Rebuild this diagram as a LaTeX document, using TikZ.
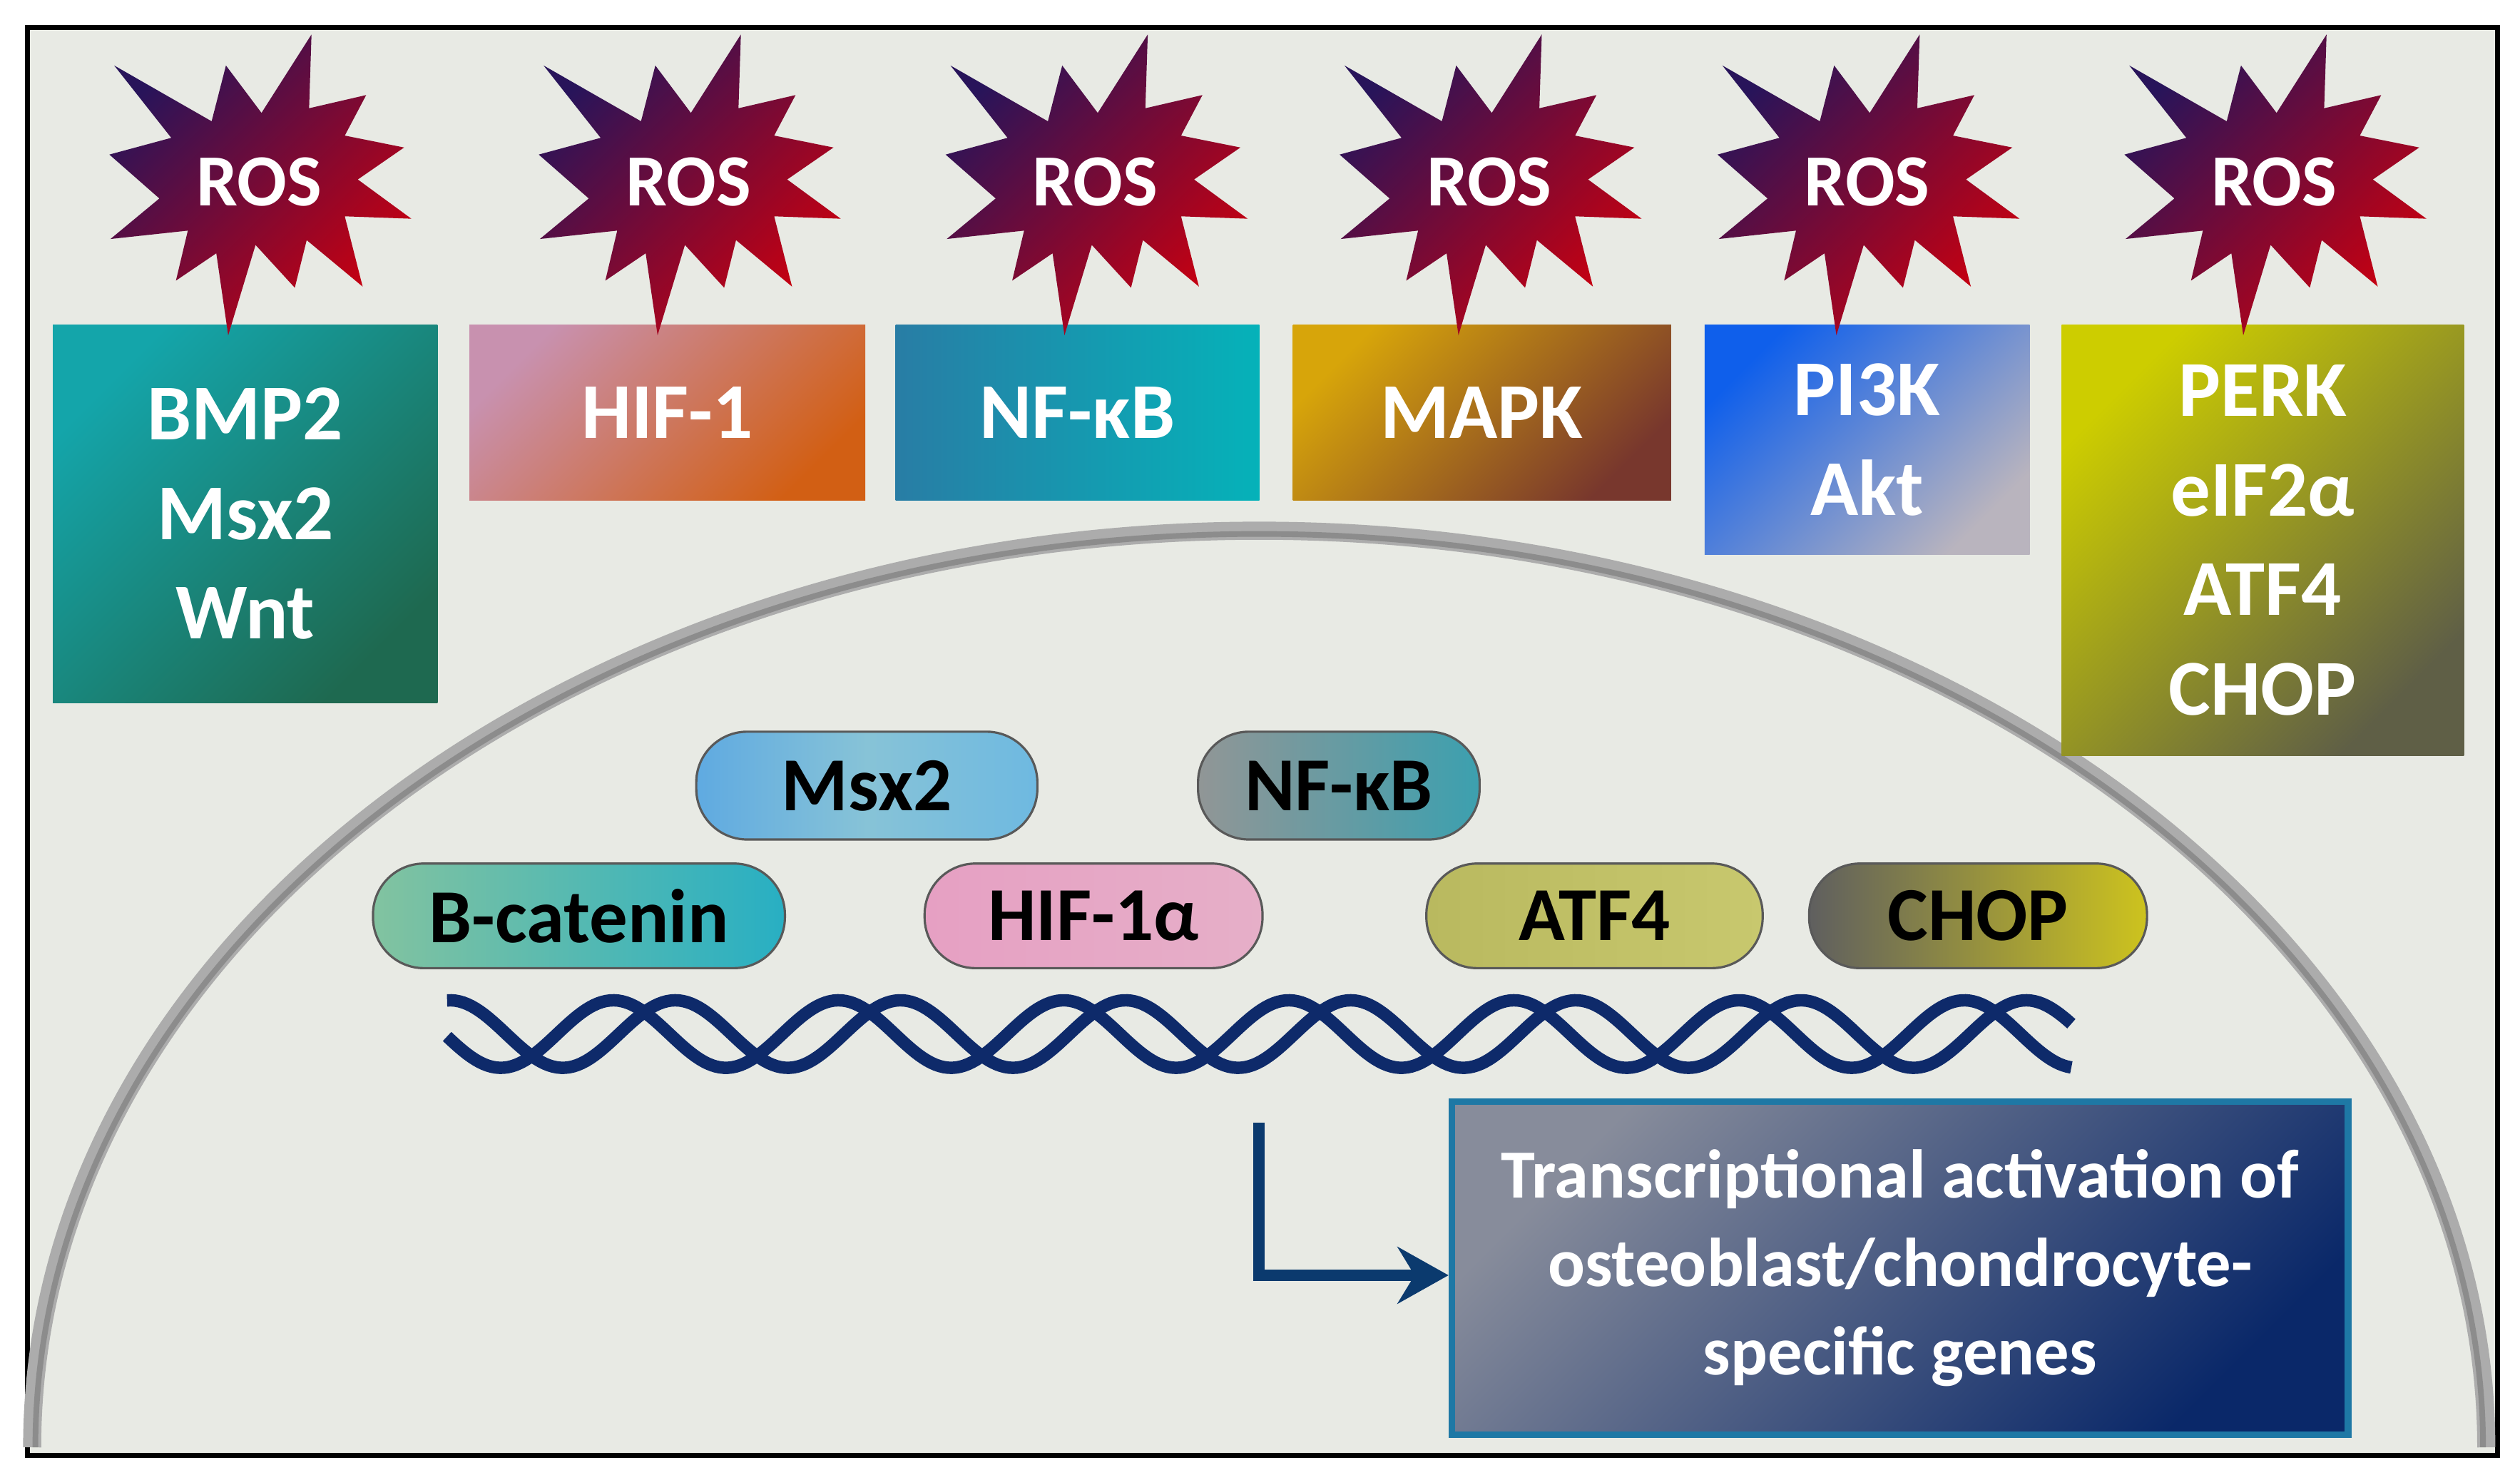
\documentclass[tikz,border=0pt]{standalone}
\usepackage{fontspec}
\setmainfont{Carlito}
\usetikzlibrary{arrows.meta}
\definecolor{bg}{HTML}{E8EAE4}
\definecolor{navy}{HTML}{0E2A6A}
\definecolor{arrowc}{HTML}{0B3A6E}
\tikzset{
  box/.style={rectangle, inner sep=0pt, text=white, font=\fontsize{14}{17.6}\selectfont\bfseries, align=center},
  pill/.style={rounded corners=9pt, draw=gray!70!black, line width=0.4pt, minimum height=0.67cm, inner sep=0pt, text=black, font=\fontsize{13.5}{16}\selectfont\bfseries},
  rostext/.style={text=white, font=\fontsize{13}{15}\selectfont\bfseries},
  star/.pic={\shade[top color={rgb,255:red,40;green,20;blue,90}, bottom color={rgb,255:red,200;green,0;blue,16}, shading angle=45]
    (33.7,-91.6) -- (2.6,-42.8) -- (-19.5,-72.3) -- (-28.4,-37.6) -- (-89,-72.3) -- (-53.5,-27.3) -- (-92,-16.9) -- (-60.9,10.4) -- (-91.3,35.6) -- (-43.2,30.4) -- (-50.6,61.5) -- (-25.5,44.5) -- (-18.1,95.5) -- (-1.1,39.3) -- (23.3,65.9) -- (30.7,36.3) -- (65.5,65.2) -- (54.4,21.5) -- (95.8,23) -- (62.5,-1.4) -- (91.3,-21.3) -- (54.4,-28.7) -- (67.7,-53.9) -- (32.2,-45.7) -- cycle;}
}
\begin{document}
\begin{tikzpicture}[x=0.01cm,y=-0.01cm]
\useasboundingbox (0,0) rectangle (1567,920);
\fill[white] (0,0) rectangle (1567,920);
\draw[fill=bg, line width=0.9pt] (17,17) rectangle (1553,905);
% nucleus arc
\draw[line width=3.2pt, gray!65] (20,900) arc[start angle=180, end angle=360, x radius=763, y radius=570];
\draw[line width=1pt, gray!90] (22,900) arc[start angle=180, end angle=360, x radius=761, y radius=568];
% boxes
\node[box, minimum width=2.39cm, minimum height=2.35cm, top color={rgb,255:red,20;green,165;blue,170}, bottom color={rgb,255:red,30;green,105;blue,80}, shading angle=45] (b1) at (152.5,319.5) {BMP2\\Msx2\\Wnt};
\node[box, minimum width=2.46cm, minimum height=1.09cm, top color={rgb,255:red,200;green,145;blue,175}, bottom color={rgb,255:red,210;green,95;blue,20}, shading angle=45] (b2) at (415,256.5) {HIF-1};
\node[box, minimum width=2.26cm, minimum height=1.09cm, left color={rgb,255:red,40;green,125;blue,165}, right color={rgb,255:red,5;green,178;blue,185}] (b3) at (670,256.5) {NF-κB};
\node[box, minimum width=2.35cm, minimum height=1.09cm, top color={rgb,255:red,215;green,165;blue,10}, bottom color={rgb,255:red,120;green,55;blue,45}, shading angle=45] (b4) at (921.5,256.5) {MAPK};
\node[box, minimum width=2.02cm, minimum height=1.43cm, top color={rgb,255:red,15;green,95;blue,235}, bottom color={rgb,255:red,185;green,180;blue,190}, shading angle=45] (b5) at (1161,273.5) {PI3K\\Akt};
\node[box, minimum width=2.50cm, minimum height=2.68cm, top color={rgb,255:red,205;green,205;blue,0}, bottom color={rgb,255:red,95;green,95;blue,70}, shading angle=45] (b6) at (1407,336) {PERK\\eIF2α\\ATF4\\CHOP};
% stars
\foreach \x/\n in {160/1,427/2,680/3,925/4,1160/5,1413/6}{
  \pic at (\x,113) {star};
  \node[rostext] (ros\n) at (\x+1,113) {ROS};
}
% pills
\node[pill, minimum width=2.12cm, left color={rgb,255:red,95;green,170;blue,225}, right color={rgb,255:red,110;green,185;blue,225}, middle color={rgb,255:red,135;green,195;blue,215}] (p1) at (539,488.5) {Msx2};
\node[pill, minimum width=1.75cm, left color={rgb,255:red,145;green,150;blue,150}, right color={rgb,255:red,60;green,160;blue,175}] (p2) at (832.5,488.5) {NF-κB};
\node[pill, minimum width=2.56cm, minimum height=0.65cm, left color={rgb,255:red,130;green,195;blue,160}, right color={rgb,255:red,40;green,175;blue,195}] (p3) at (360,569.5) {B-catenin};
\node[pill, minimum width=2.10cm, minimum height=0.65cm, left color={rgb,255:red,230;green,160;blue,195}, middle color={rgb,255:red,245;green,145;blue,130}, right color={rgb,255:red,230;green,175;blue,200}] (p4) at (680,569.5) {HIF-1α};
\node[pill, minimum width=2.09cm, minimum height=0.65cm, left color={rgb,255:red,185;green,185;blue,95}, middle color={rgb,255:red,232;green,232;blue,150}, right color={rgb,255:red,200;green,200;blue,110}] (p5) at (991.5,569.5) {ATF4};
\node[pill, minimum width=2.10cm, minimum height=0.65cm, left color={rgb,255:red,95;green,95;blue,95}, right color={rgb,255:red,205;green,195;blue,30}] (p6) at (1230,569.5) {CHOP};
% DNA
\draw[navy, line width=2.2pt] plot[domain=278:1288, samples=400] (\x,{643-21*cos(2.5714*(\x-381.4))});
\draw[navy, line width=2.2pt] plot[domain=278:1288, samples=400] (\x,{643-21*cos(2.5714*(\x-419.9))});
% target box
\node[rectangle, draw={rgb,255:red,30;green,120;blue,165}, line width=1.2pt, minimum width=5.57cm, minimum height=2.07cm, inner sep=0pt, top color={rgb,255:red,135;green,140;blue,155}, bottom color={rgb,255:red,10;green,40;blue,105}, shading angle=45, text=white, align=center, font=\fontsize{12.2}{15.6}\selectfont\bfseries] (tb) at (1181.5,788.5) {Transcriptional activation of\\osteoblast/chondrocyte-\\specific genes};
\coordinate (a1) at (783,698);
\draw[arrowc, line width=2pt, -{Stealth[length=9pt, width=10pt, inset=3pt]}] (a1) -- (783,793) -- (tb.west |- 0,793);
\end{tikzpicture}
\end{document}
